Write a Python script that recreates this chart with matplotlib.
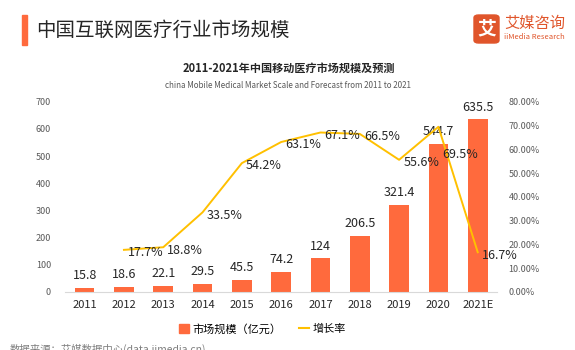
import matplotlib.pyplot as plt
from matplotlib.patches import FancyBboxPatch, Rectangle
from matplotlib.lines import Line2D

plt.rcParams['font.family'] = ['Noto Sans CJK SC', 'DejaVu Sans']

# data
years = ['2011', '2012', '2013', '2014', '2015', '2016', '2017', '2018', '2019', '2020', '2021E']
market = [15.8, 18.6, 22.1, 29.5, 45.5, 74.2, 124, 206.5, 321.4, 544.7, 635.5]
growth_years = years[1:]
growth = [17.7, 18.8, 33.5, 54.2, 63.1, 67.1, 66.5, 55.6, 69.5, 16.7]
market_labels = ['15.8', '18.6', '22.1', '29.5', '45.5', '74.2', '124', '206.5', '321.4', '544.7', '635.5']

bar_color = '#FF6A3D'
line_color = '#FFC000'

fig = plt.figure(figsize=(5.75, 3.5), dpi=100)
ax = fig.add_axes([0.113, 0.166, 0.752, 0.543])
ax2 = ax.twinx()

x = list(range(len(years)))
ax.bar(x, market, width=0.5, color=bar_color, zorder=2)
for xi, v, s in zip(x, market, market_labels):
    ax.annotate(s, (xi, v), xytext=(0, 4), textcoords='offset points',
                ha='center', va='bottom', fontsize=9, color='#262626')

gx = x[1:]
g = [v / 100 for v in growth]
ax2.plot(gx, g, color=line_color, lw=1.4, zorder=3)
for xi, v, gv in zip(gx, g, growth):
    dy = -20 if gv == 69.5 else -2
    ax2.annotate(f'{gv}%', (xi, v), xytext=(3, dy), textcoords='offset points',
                 ha='left', va='center', fontsize=9, color='#262626')

ax.set_xlim(-0.5, len(years) - 0.5)
ax.set_ylim(0, 700)
ax2.set_ylim(0, 0.8)
ax.set_yticks(range(0, 701, 100))
ax2.set_yticks([i / 100 for i in range(0, 81, 10)])
ax2.set_yticklabels([f'{i}.00%' for i in range(0, 81, 10)])
ax.set_xticks(x)
ax.set_xticklabels(years, fontsize=8, color='#262626')
ax.tick_params(axis='y', length=0, labelsize=6.5, labelcolor='#595959', pad=10)
ax2.tick_params(axis='y', length=0, labelsize=6.5, labelcolor='#595959', pad=8)
ax.tick_params(axis='x', length=0, pad=6)
for a in (ax, ax2):
    for side in ('top', 'left', 'right', 'bottom'):
        a.spines[side].set_visible(False)
ax.spines['bottom'].set_visible(True)
ax.spines['bottom'].set_color('#D9D9D9')
ax.spines['bottom'].set_linewidth(0.8)

# header
fig.patches.append(Rectangle((22 / 575, 1 - 45 / 350), 5 / 575, 30 / 350,
                             transform=fig.transFigure, color='#FF6A3D'))
fig.text(36 / 575, 1 - 30 / 350, '中国互联网医疗行业市场规模', fontsize=14,
         color='#262626', va='center', ha='left', weight='medium')

# logo
fig.patches.append(FancyBboxPatch((474 / 575, 1 - 43 / 350), 25 / 575, 28 / 350,
                                  boxstyle='round,pad=0,rounding_size=0.008',
                                  transform=fig.transFigure, color='#E0552B'))
fig.text(486.5 / 575, 1 - 29 / 350, '艾', fontsize=13.5, color='white',
         ha='center', va='center', weight='bold')
fig.text(504 / 575, 1 - 23 / 350, '艾媒咨询', fontsize=11, color='#E0552B',
         ha='left', va='center')
fig.text(504 / 575, 1 - 37 / 350, 'iiMedia Research', fontsize=5.5, color='#E0552B',
         ha='left', va='center')

# chart titles
fig.text(289 / 575, 1 - 68 / 350, '2011-2021年中国移动医疗市场规模及预测', fontsize=8,
         weight='bold', color='#262626', ha='center', va='center')
fig.text(288 / 575, 1 - 85 / 350, 'china Mobile Medical Market Scale and Forecast from 2011 to 2021',
         fontsize=5.8, color='#595959', ha='center', va='center')

# legend
handles = [Rectangle((0, 0), 1, 1, color=bar_color),
           Line2D([0], [0], color=line_color, lw=1.5)]
fig.legend(handles, ['市场规模（亿元）', '增长率'], loc='center',
           bbox_to_anchor=(262 / 575, 1 - 329 / 350), ncol=2, frameon=False,
           fontsize=8, handlelength=0.9, handleheight=0.9, columnspacing=1.6,
           handletextpad=0.3)

fig.text(10 / 575, 1 - 349 / 350, '数据来源：艾媒数据中心(data.iimedia.cn)', fontsize=7.5,
         color='#7F7F7F', ha='left', va='center')

fig.savefig('out.png', dpi=100, facecolor='white')
